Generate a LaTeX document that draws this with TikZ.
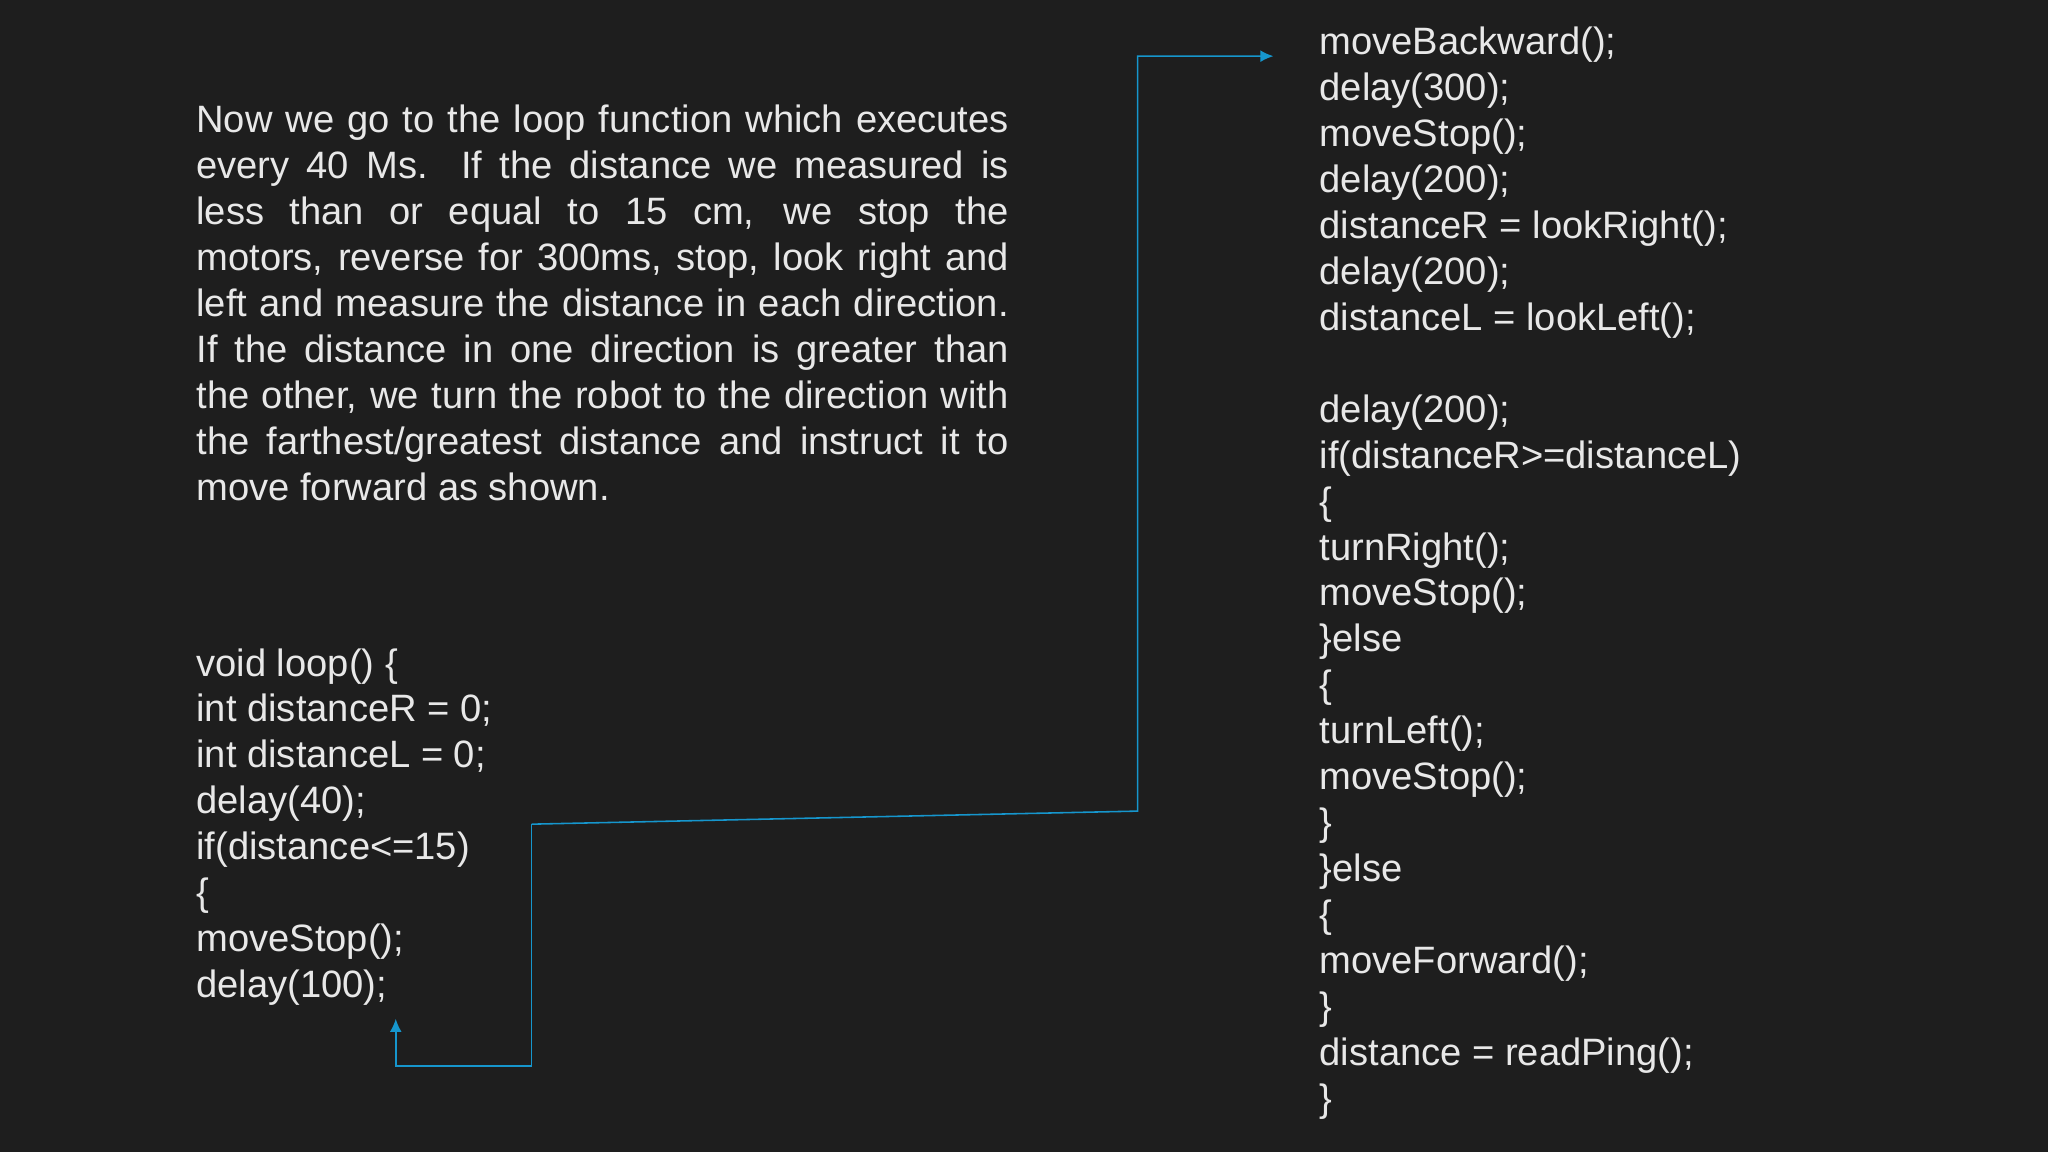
\documentclass[tikz,border=0pt]{standalone}
\usepackage{fontspec}
\setmainfont{Liberation Sans}
\usetikzlibrary{arrows.meta}
\definecolor{bg}{RGB}{30,30,30}
\definecolor{fg}{RGB}{232,232,232}
\definecolor{cy}{RGB}{22,150,205}
\newcommand{\jline}[1]{\hbox to 311pt{#1}}
\begin{document}
\begin{tikzpicture}[x=0.5pt,y=-0.5pt,
  txt/.style={inner sep=0pt,anchor=north west,text=fg,font=\fontsize{14.6}{17.6}\selectfont},
  code/.style={txt,align=left},
  conn/.style={draw=cy,line width=0.6pt,-{Latex[length=5pt,width=4.5pt]}}]
\fill[bg] (0,0) rectangle (1568,882);
\useasboundingbox (0,0) rectangle (1568,882);
\node[code] (para) at (150,80) {\jline{Now we go to the loop function which executes}\\
\jline{every 40 Ms. If the distance we measured is}\\
\jline{less than or equal to 15 cm, we stop the}\\
\jline{motors, reverse for 300ms, stop, look right and}\\
\jline{left and measure the distance in each direction.}\\
\jline{If the distance in one direction is greater than}\\
\jline{the other, we turn the robot to the direction with}\\
\jline{the farthest/greatest distance and instruct it to}\\
move forward as shown.};
\node[code] (left) at (150,496) {void loop() \{\\ int distanceR = 0;\\ int distanceL = 0;\\ delay(40);\\ if(distance<=15)\\ \{\\ moveStop();\\ delay(100);};
\node[code] (right) at (1010,20) {moveBackward();\\ delay(300);\\ moveStop();\\ delay(200);\\ distanceR = lookRight();\\ delay(200);\\ distanceL = lookLeft();\\ \mbox{}\\ delay(200);\\ if(distanceR>=distanceL)\\ \{\\ turnRight();\\ moveStop();\\ \}else\\ \{\\ turnLeft();\\ moveStop();\\ \}\\ \}else\\ \{\\ moveForward();\\ \}\\ distance = readPing();\\ \}};
\coordinate (a) at (303,780);
\coordinate (b) at (975,43);
\draw[conn] (407,631) -- (407,816) -- (303,816) -- (a);
\draw[conn] (407,631) -- (871,621) -- (871,43) -- (b);
\end{tikzpicture}
\end{document}
